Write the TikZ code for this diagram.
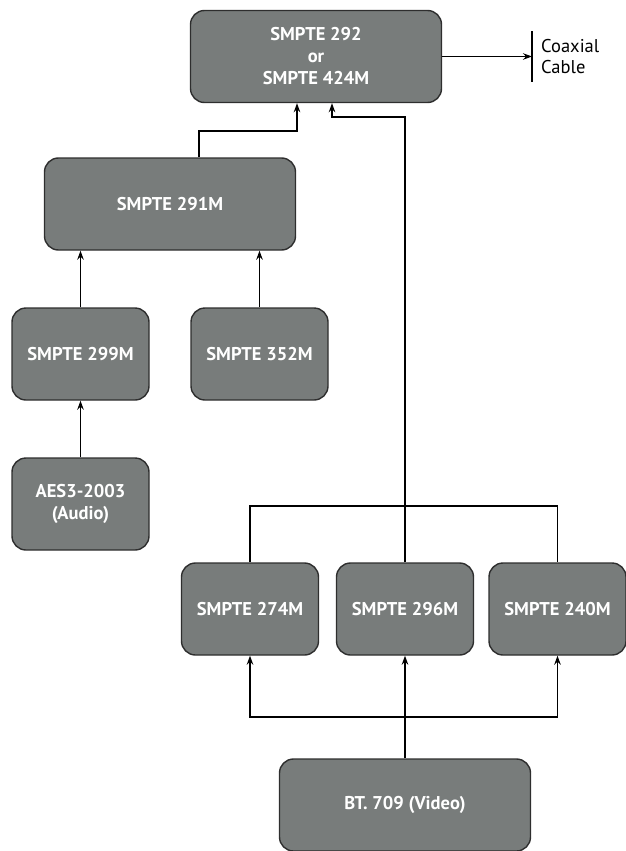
\documentclass[tikz,border=0pt]{standalone}
\usepackage{fontspec}
\setmainfont{PT Sans}
\usetikzlibrary{arrows.meta}
\definecolor{boxgray}{HTML}{787C7B}
\definecolor{boxline}{HTML}{2E2E2E}

\begin{document}
\begin{tikzpicture}[x=1pt,y=-1pt,>={Stealth[length=9pt,width=6.5pt]},
  stdbox/.style={draw=boxline,fill=boxgray,line width=1.4pt,rounded corners=14pt,
    text=white,font=\fontsize{18.5}{22}\selectfont\bfseries,align=center,inner sep=0pt},
  widebox/.style={stdbox,minimum width=251pt,minimum height=92pt},
  smallbox/.style={stdbox,minimum width=137pt,minimum height=92pt},
  link/.style={line width=1.2pt,draw=black}]
  \useasboundingbox (0,0) rectangle (626,851);
  \node[widebox] (top) at (316,56.5) {SMPTE 292\\or\\SMPTE 424M};
  \node[widebox] (m291) at (170,204) {SMPTE 291M};
  \node[smallbox] (m299) at (80.5,354) {SMPTE 299M};
  \node[smallbox] (m352) at (259.5,354) {SMPTE 352M};
  \node[smallbox] (aes) at (80.5,504) {AES3-2003\\(Audio)};
  \node[smallbox] (m274) at (250,609) {SMPTE 274M};
  \node[smallbox] (m296) at (405,609) {SMPTE 296M};
  \node[smallbox] (m240) at (557.5,609) {SMPTE 240M};
  \node[widebox] (bt709) at (405,805) {BT. 709 (Video)};
  \coordinate (coaxbar) at (532,56.5);
  \coordinate (mergeA) at (297,131);
  \coordinate (mergeB) at (332,117);
  \coordinate (busTop) at (405,506);
  \coordinate (busBot) at (405,717);
  \draw[link,->] (top.east) -- (coaxbar);
  \draw[link] ([yshift=-25pt]coaxbar) -- ([yshift=25pt]coaxbar);
  \node[anchor=west,align=left,inner sep=0pt,font=\fontsize{18.5}{21}\selectfont]
    (coax) at (541,56.5) {Coaxial\\Cable};
  \draw[link,->] ([xshift=29pt]m291.north) |- (mergeA) -- (mergeA |- top.south);
  \draw[link,->] (m296.north) |- (mergeB) -- (mergeB |- top.south);
  \draw[link,->] (m299.north) -- (m299.north |- m291.south);
  \draw[link,->] (m352.north) -- (m352.north |- m291.south);
  \draw[link,->] (aes.north) -- (m299.south);
  \draw[link] (m274.north) |- (busTop) -| (m240.north);
  \draw[link,->] (bt709.north) -- (m296.south);
  \draw[link,->] (busBot) -| (m274.south);
  \draw[link,->] (busBot) -| (m240.south);
\end{tikzpicture}
\end{document}
